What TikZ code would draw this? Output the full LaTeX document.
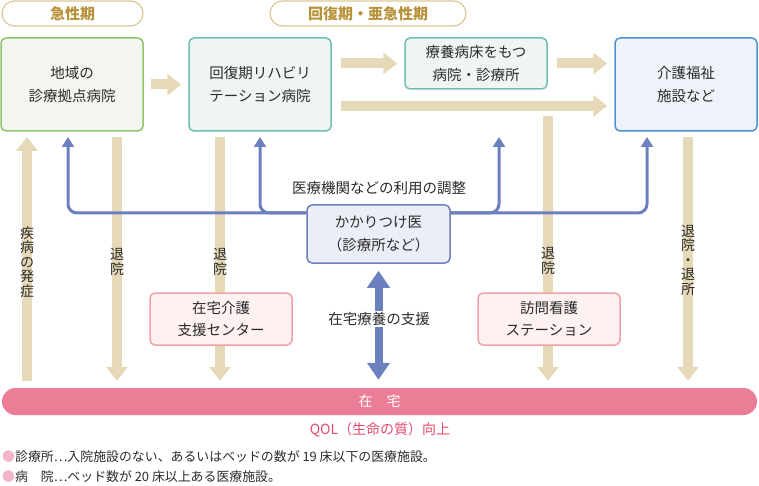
\documentclass[tikz,border=0pt]{standalone}
\usepackage{fontspec}
\setmainfont{Noto Sans CJK JP}
\usetikzlibrary{arrows.meta}
\definecolor{tanarr}{HTML}{E6D9B8}
\definecolor{goldtxt}{HTML}{B8923A}
\definecolor{goldln}{HTML}{DCC795}
\definecolor{grnln}{HTML}{8FC46A}
\definecolor{grnbg}{HTML}{F3F5EE}
\definecolor{tealln}{HTML}{70C0B3}
\definecolor{tealbg}{HTML}{EEF5F3}
\definecolor{bluln}{HTML}{4E94D2}
\definecolor{blubg}{HTML}{EEF3F9}
\definecolor{navy}{HTML}{6C7FBF}
\definecolor{navybg}{HTML}{EBEEF6}
\definecolor{pinkln}{HTML}{F0A1A5}
\definecolor{pinkbg}{HTML}{FDF1F1}
\definecolor{barpink}{HTML}{EC7D96}
\definecolor{qolred}{HTML}{E24A6C}
\definecolor{dotpink}{HTML}{F2B4C8}
\definecolor{txt}{HTML}{2B2B2B}
\tikzset{
  stagebox/.style={draw=goldln, line width=1.2pt, rounded corners=12.5pt, minimum height=25pt,
    text=goldtxt, font=\fontsize{15}{18}\selectfont\bfseries},
  facility/.style={line width=1.5pt, rounded corners=5pt, minimum width=142pt, align=center,
    text=txt, font=\fontsize{14.5}{23}\selectfont},
  vlabel/.style={align=center, inner sep=0pt, text=txt, font=\fontsize{14}{14.5}\selectfont},
  fatarrow/.style={draw=tanarr, line width=10pt, -{Triangle[width=21pt,length=14pt]}},
  bl/.style={draw=navy, line width=3pt, rounded corners=9pt, -{Triangle[width=12pt,length=10pt]}},
  dblarrow/.style={draw=navy, line width=8pt, {Triangle[width=22pt,length=17pt]}-{Triangle[width=22pt,length=17pt]}}
}
\begin{document}
\begin{tikzpicture}[x=1pt,y=-1pt]
    \useasboundingbox (0,0) rectangle (759,486);
    \node[stagebox, minimum width=141pt] (acute) at (72.5,13.5) {急性期};
    \node[stagebox, minimum width=196pt] (recov) at (368,13.5) {回復期・亜急性期};
    \node[facility, draw=grnln, fill=grnbg, minimum height=93pt] (chiiki) at (72,84.5) {地域の\\診療拠点病院};
    \node[facility, draw=tealln, fill=tealbg, minimum height=93pt] (kaifuku) at (260,84.5) {回復期リハビリ\\テーション病院};
    \node[facility, draw=tealln, fill=tealbg, minimum height=51pt] (ryoyo) at (476,63.5) {療養病床をもつ\\病院・診療所};
    \node[facility, draw=bluln, fill=blubg, minimum height=93pt] (kaigo) at (686,84.5) {介護福祉\\施設など};
    \node[facility, draw=navy, fill=navybg, minimum width=143pt, minimum height=58pt] (kakari) at (378.5,234) {かかりつけ医\\（診療所など）};
    \node[fill=barpink, rounded corners=13.5pt, minimum width=755pt, minimum height=27pt,
      text=white, font=\fontsize{14}{16}\selectfont] (home) at (379.5,401.5) {在　宅};

    \draw[fatarrow] ([xshift=7pt]chiiki.east) -- ([xshift=-7pt]kaifuku.west |- chiiki.east);
    \draw[fatarrow] ([xshift=9pt]kaifuku.east |- ryoyo.west) -- ([xshift=-7pt]ryoyo.west);
    \draw[fatarrow] ([xshift=9pt]ryoyo.east) -- ([xshift=-7pt]kaigo.west |- ryoyo.east);
    \coordinate (lng) at ([shift={(9pt,-21.5pt)}]kaifuku.east);
    \draw[fatarrow] (lng) -- ([xshift=-7pt]kaigo.west |- lng);

    \coordinate (a1) at (27,137);
    \coordinate (a2) at (117,137);
    \coordinate (a3) at (220,137);
    \coordinate (a4) at (548,116);
    \coordinate (a5) at (688,137);
    \draw[fatarrow, shorten <=7pt] (a1 |- home.north) -- (a1);
    \draw[fatarrow, shorten >=7pt] (a2) -- (a2 |- home.north);
    \draw[fatarrow, shorten >=7pt] (a3) -- (a3 |- home.north);
    \draw[fatarrow, shorten >=7pt] (a4) -- (a4 |- home.north);
    \draw[fatarrow, shorten >=7pt] (a5) -- (a5 |- home.north);
    \node[vlabel] (hassho) at (27,262) {疾\\病\\の\\発\\症};
    \node[vlabel] (taiin1) at (117,262) {退\\院};
    \node[vlabel] (taiin2) at (220,262) {退\\院};
    \node[vlabel] (taiin3) at (548,261) {退\\院};
    \node[vlabel] (taisho) at (688,260) {退\\院\\・\\退\\所};

    \coordinate (kl) at ([yshift=21pt]kakari.west);
    \coordinate (kr) at ([yshift=21pt]kakari.east);
    \coordinate (b1) at (68,137);
    \coordinate (b2) at (260,137);
    \coordinate (b3) at (499,137);
    \coordinate (b4) at (647,137);
    \draw[bl] (kl) -| (b1);
    \draw[bl] (kl) -| (b2);
    \draw[bl] (kr) -| (b3);
    \draw[bl] (kr) -| (b4);
    \node[text=txt, font=\fontsize{14.5}{16}\selectfont] (chosei) at (379,188) {医療機関などの利用の調整};

    \draw[dblarrow, shorten <=7pt, shorten >=8pt] (kakari.south) -- (kakari.south |- home.north);
    \node[fill=white, inner sep=1pt, text=txt, font=\fontsize{14.5}{16}\selectfont] (shien) at (379,319) {在宅療養の支援};

    \node[facility, draw=pinkln, fill=pinkbg, minimum height=52pt, font=\fontsize{14.5}{22}\selectfont] (shienctr) at (221,319) {在宅介護\\支援センター};
    \node[facility, draw=pinkln, fill=pinkbg, minimum height=52pt, font=\fontsize{14.5}{22}\selectfont] (houmon) at (549,319) {訪問看護\\ステーション};

    \node[text=qolred, font=\fontsize{14}{16}\selectfont] (qol) at (380,430) {QOL（生命の質）向上};
    \node[anchor=west, inner sep=0pt, text=txt, font=\fontsize{12.9}{14}\selectfont] (note1) at (2,457)
      {\textcolor{dotpink}{●}診療所…入院施設のない、あるいはベッドの数が 19 床以下の医療施設。};
    \node[anchor=west, inner sep=0pt, text=txt, font=\fontsize{12.9}{14}\selectfont] (note2) at (2,477)
      {\textcolor{dotpink}{●}病　院…ベッド数が 20 床以上ある医療施設。};
\end{tikzpicture}
\end{document}
